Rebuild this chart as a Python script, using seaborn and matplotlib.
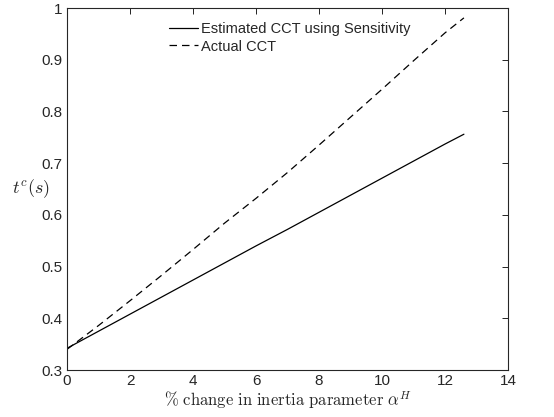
import matplotlib
matplotlib.use("Agg")
import matplotlib.pyplot as plt
import seaborn as sns
import pandas as pd

x_vals = [0, 1, 2, 3, 4, 5, 6, 7, 8, 9, 10, 11, 12, 12.6]
estimated = [0.342, 0.375, 0.408, 0.441, 0.474, 0.507, 0.540, 0.572, 0.605,
             0.638, 0.671, 0.704, 0.737, 0.756]
actual = [0.340, 0.386, 0.434, 0.483, 0.533, 0.584, 0.632, 0.682, 0.735,
          0.789, 0.843, 0.898, 0.952, 0.981]
series_names = ["Estimated CCT using Sensitivity", "Actual CCT"]
x_ticks = [0, 2, 4, 6, 8, 10, 12, 14]
y_ticks = [0.3, 0.4, 0.5, 0.6, 0.7, 0.8, 0.9, 1.0]
y_ticklabels = ["0.3", "0.4", "0.5", "0.6", "0.7", "0.8", "0.9", "1"]

sns.set_style("white")
plt.rcParams["font.family"] = ["Liberation Sans", "DejaVu Sans"]
plt.rcParams["mathtext.fontset"] = "cm"

df = pd.DataFrame({
    "x": x_vals * 2,
    "y": estimated + actual,
    "series": [series_names[0]] * len(x_vals) + [series_names[1]] * len(x_vals),
})

fig = plt.figure(figsize=(5.54, 4.17), dpi=100)
ax = fig.add_axes([0.121, 0.1127, 0.796, 0.868])

sns.lineplot(data=df, x="x", y="y", hue="series", style="series",
             palette=["black", "black"],
             dashes={series_names[0]: "", series_names[1]: (6, 4)},
             linewidth=0.9, ax=ax)

ax.set_xlim(0, 14)
ax.set_ylim(0.3, 1.0)
ax.set_xticks(x_ticks)
ax.set_yticks(y_ticks)
ax.set_yticklabels(y_ticklabels)
ax.tick_params(direction="in", top=True, right=True, length=4, width=0.6,
               labelsize=11, colors="black", pad=3)
ax.tick_params(axis="both", labelcolor="#262626")
for s in ax.spines.values():
    s.set_visible(True)
    s.set_linewidth(0.8)
    s.set_color("#262626")

ax.set_xlabel(r"$\%\ \mathrm{change\ in\ inertia\ parameter\ }\alpha^H$",
              fontsize=12, labelpad=1)
ax.set_ylabel(r"$t^c(s)$", fontsize=13, rotation=0, ha="center", va="center")
ax.yaxis.set_label_coords(-0.083, 0.5)

leg = ax.legend(loc="upper center", bbox_to_anchor=(0.505, 0.99), frameon=False,
                fontsize=10.5, handlelength=2.0, handletextpad=0.2,
                labelspacing=0.25, borderaxespad=0.3)
for line in leg.get_lines():
    line.set_linewidth(0.9)

fig.savefig("out.png", dpi=100)
